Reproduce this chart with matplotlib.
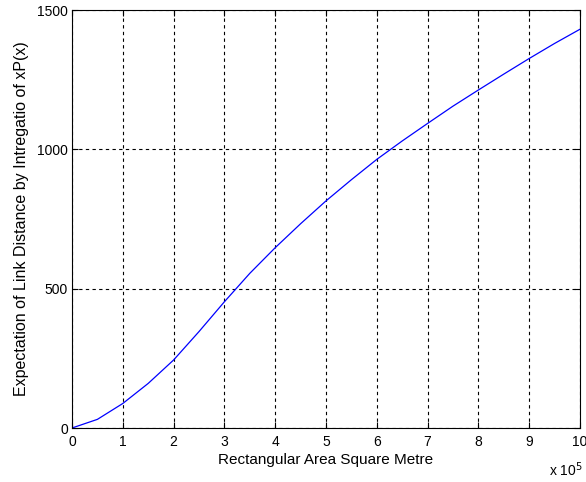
import numpy as np
import matplotlib
matplotlib.use("Agg")
import matplotlib.pyplot as plt

# data (x in units of 1e5 m^2)
area = [0, 0.5, 1, 1.5, 2, 2.5, 3, 3.5, 4, 4.5, 5, 5.5, 6, 6.5, 7, 7.5, 8, 8.5, 9, 9.5, 10]
expect_dist = [0, 31, 88, 160, 244, 346, 453, 555, 647, 733, 815, 891, 964, 1030,
               1093, 1155, 1213, 1270, 1326, 1380, 1431]

xticks = list(range(0, 11))
yticks = [0, 500, 1000, 1500]

plt.rcParams['font.family'] = ['Liberation Sans', 'DejaVu Sans']

fig = plt.figure(figsize=(5.86, 4.82), dpi=100)
ax = fig.add_axes([72 / 586, 1 - 428 / 482, 508 / 586, 418 / 482])

ax.plot(area, expect_dist, color='#0000ff', linewidth=0.9)

ax.set_xlim(0, 10)
ax.set_ylim(0, 1500)
ax.set_xticks(xticks)
ax.set_yticks(yticks)
ax.grid(True, color='black', linestyle=(0, (3, 3)), linewidth=0.8)
ax.tick_params(direction='in', top=True, right=True, labelsize=10, length=4, colors='black')
ax.tick_params(axis='x', pad=5)
ax.tick_params(axis='y', pad=3)
for s in ax.spines.values():
    s.set_linewidth(0.8)

ax.set_xlabel('Rectangular Area Square Metre', fontsize=11, labelpad=3)
ax.set_ylabel('Expectation of Link Distance by Intregatio of xP(x)', fontsize=11.5, labelpad=6)
fig.text(583 / 586, 1 - 476 / 482, r'x 10$^{5}$', ha='right', va='baseline', fontsize=10)

fig.savefig('out.png', dpi=100)
